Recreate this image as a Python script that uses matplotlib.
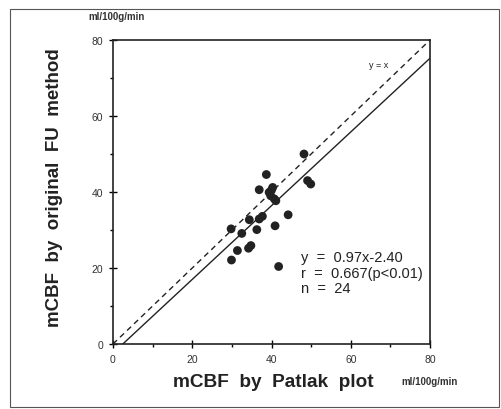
import matplotlib
matplotlib.use("Agg")
import matplotlib.pyplot as plt
import numpy as np
from matplotlib.patches import Rectangle

plt.rcParams['font.family'] = ['Liberation Sans', 'DejaVu Sans']

patlak = [48.2, 38.7, 36.9, 40.3, 39.4, 39.8, 40.7, 41.1, 49.1, 49.9, 44.2, 37.7,
          36.9, 34.4, 29.8, 32.5, 36.3, 40.9, 31.4, 34.2, 34.8, 29.9, 41.8, 40.0]
fu = [50.0, 44.6, 40.6, 41.2, 39.9, 39.0, 38.2, 37.7, 43.0, 42.1, 34.0, 33.6,
      32.9, 32.7, 30.3, 29.1, 30.1, 31.1, 24.6, 25.2, 25.9, 22.1, 20.4, 40.5]
slope = 0.97
intercept = -2.40
major_ticks = [0, 20, 40, 60, 80]
minor_ticks = [10, 30, 50, 70]

fig = plt.figure(figsize=(5.01, 4.10), dpi=100)
fig.patches.append(Rectangle((10/501, 2/410), 489/501, 398/410, transform=fig.transFigure,
                             fill=False, edgecolor='#555555', linewidth=0.8))
ax = fig.add_axes([113/501, 1 - 345/410, 317/501, 304/410])

ax.scatter(patlak, fu, s=40, color='#222222', zorder=3, edgecolors='none')
xs = np.array([-intercept / slope, 80])
ax.plot(xs, slope * xs + intercept, color='#222222', linewidth=1.0)
ax.plot([0, 80], [0, 80], color='#222222', linewidth=1.0, linestyle=(0, (4, 3)))

ax.set_xlim(0, 80)
ax.set_ylim(0, 80)
ax.set_xticks(major_ticks)
ax.set_yticks(major_ticks)
ax.set_xticks(minor_ticks, minor=True)
ax.set_yticks(minor_ticks, minor=True)
ax.tick_params(which='major', direction='inout', length=6, width=1, labelsize=7.5,
               labelcolor='#333333', pad=4)
ax.tick_params(which='minor', direction='out', length=2, width=1)
for sp in ax.spines.values():
    sp.set_linewidth(1.2)
    sp.set_color('#222222')

ax.text(64.5, 73.5, 'y = x', fontsize=6.5, color='#222222', va='center')
ax.text(47.5, 22.8, 'y  =  0.97x-2.40', fontsize=10.5, color='#222222', va='center')
ax.text(47.5, 18.8, 'r  =  0.667(p<0.01)', fontsize=10.5, color='#222222', va='center')
ax.text(47.5, 14.8, 'n  =  24', fontsize=10.5, color='#222222', va='center')

fig.text(273/501, 1 - 383/410, 'mCBF  by  Patlak  plot', fontsize=13.7, fontweight='bold',
         ha='center', va='center', color='#222222')
fig.text(55/501, 1 - 188/410, 'mCBF  by  original  FU  method', fontsize=13.5, fontweight='bold',
         ha='center', va='center', rotation=90, color='#222222')
fig.text(117/501, 1 - 17/410, 'ml/100g/min', fontsize=7, fontweight='bold',
         ha='center', va='center', color='#333333')
fig.text(430/501, 1 - 382/410, 'ml/100g/min', fontsize=7, fontweight='bold',
         ha='center', va='center', color='#333333')

fig.savefig('out.png', dpi=100)
